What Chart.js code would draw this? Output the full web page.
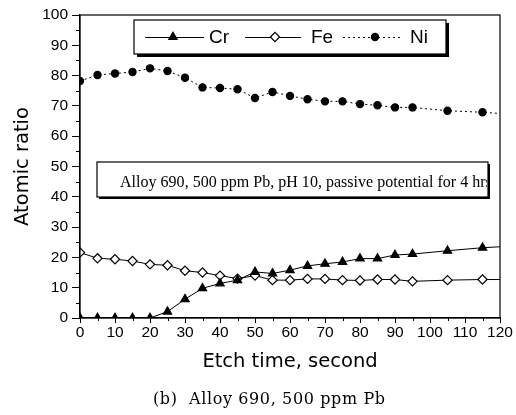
<!DOCTYPE html>
<html><head><meta charset="utf-8">
<script src="https://cdn.jsdelivr.net/npm/chart.js@4.4.1/dist/chart.umd.min.js"></script>
<style>html,body{margin:0;padding:0;background:#fff}canvas{display:block}</style>
</head><body>
<canvas id="c" width="516" height="415"></canvas>
<script>
// Etch time (s); last entry is where the drawn lines end (no marker)
const etchTime = [0,5,10,15,20,25,30,35,40,45,50,55,60,65,70,75,80,85,90,95,105,115,120];
const cr = [0,0,0,0,0,2.1,6.2,9.8,11.4,12.5,15.2,14.7,15.8,17.2,17.9,18.5,19.6,19.6,20.8,21.1,22.2,23.2,23.5];
const fe = [21.6,19.7,19.4,18.8,17.7,17.4,15.6,15.0,14.0,13.0,14.0,12.5,12.5,12.9,12.9,12.5,12.4,12.7,12.7,12.1,12.5,12.7,12.7];
const ni = [78.2,80.2,80.7,81.2,82.4,81.5,79.3,76.1,75.9,75.5,72.6,74.6,73.3,72.2,71.5,71.5,70.6,70.2,69.5,69.5,68.4,67.9,67.5];
const seriesNames = ['Cr','Fe','Ni'];
const xTicks = [0,10,20,30,40,50,60,70,80,90,100,110,120];
const yTicks = [0,10,20,30,40,50,60,70,80,90,100];
const xTitle = 'Etch time, second';
const yTitle = 'Atomic ratio';
const noteText = 'Alloy 690, 500 ppm Pb, pH 10, passive potential for 4 hrs';
const caption = '(b)  Alloy 690, 500 ppm Pb';

const pts = arr => arr.map((v,i)=>({x:etchTime[i], y:v}));
const lastHidden = r => ctx => ctx.dataIndex === etchTime.length-1 ? 0 : r;

const styles = [
  {pointStyle:'triangle', radius:4.8, bg:'#000', dash:[]},
  {pointStyle:'rectRot', radius:4.6, bg:'#fff', dash:[]},
  {pointStyle:'circle', radius:3.6, bg:'#000', dash:[2,3]}
];
const datasets = [cr,fe,ni].map((arr,k)=>({
  label: seriesNames[k],
  data: pts(arr),
  borderColor:'#000', borderWidth:1, borderDash: styles[k].dash,
  pointStyle: styles[k].pointStyle,
  pointRadius: lastHidden(styles[k].radius),
  pointBackgroundColor: styles[k].bg, pointBorderColor:'#000', pointBorderWidth:1.2,
  tension:0, fill:false
}));

const sans = 'Liberation Sans';
function fitText(c, text, x, y, width){
  const w = c.measureText(text).width;
  const sp = Math.max(0, (width - w) / (text.length - 1));
  if ('letterSpacing' in c) c.letterSpacing = sp.toFixed(2) + 'px';
  c.fillText(text, x, y);
  if ('letterSpacing' in c) c.letterSpacing = '0px';
}
const decor = {
  id:'decor',
  afterDraw(chart){
    const c = chart.ctx, a = chart.chartArea, xs = chart.scales.x, ys = chart.scales.y;
    c.save();
    // frame
    c.strokeStyle='#000'; c.lineWidth=1.2;
    c.strokeRect(a.left, a.top, a.right-a.left, a.bottom-a.top);
    // minor ticks
    c.lineWidth=1;
    c.beginPath();
    for(let v=5; v<100; v+=10){ const y=Math.round(ys.getPixelForValue(v))+0.5; c.moveTo(a.left-4,y); c.lineTo(a.left,y); }
    for(let v=5; v<120; v+=10){ const x=Math.round(xs.getPixelForValue(v))+0.5; c.moveTo(x,a.bottom); c.lineTo(x,a.bottom+3); }
    c.stroke();
    // legend box with shadow
    const L=134, T=20, R=446, B=54;
    c.fillStyle='#000'; c.fillRect(L+3, T+3, R-L, B-T);
    c.fillStyle='#fff'; c.fillRect(L, T, R-L, B-T);
    c.strokeStyle='#000'; c.lineWidth=1.2; c.strokeRect(L, T, R-L, B-T);
    const items = [
      {x1:145,x2:204,mx:173,tx:209},
      {x1:245,x2:301,mx:275,tx:311},
      {x1:343,x2:400,mx:375,tx:410}
    ];
    const cy = 37;
    items.forEach((it,k)=>{
      const ds = datasets[k];
      c.save();
      c.strokeStyle='#000'; c.lineWidth=1; c.setLineDash(ds.borderDash);
      c.beginPath(); c.moveTo(it.x1,cy+0.5); c.lineTo(it.x2,cy+0.5); c.stroke();
      c.restore();
      c.fillStyle = ds.pointBackgroundColor; c.strokeStyle='#000'; c.lineWidth=1.2;
      Chart.helpers.drawPoint(c, {pointStyle: ds.pointStyle, radius: styles[k].radius, borderWidth:1.2}, it.mx, cy);
      c.fillStyle='#000'; c.font='19px "'+sans+'"'; c.textBaseline='middle'; c.textAlign='left';
      c.fillText(ds.label, it.tx, cy+1);
    });
    // note box
    const nL=97, nT=162, nR=488, nB=197;
    c.fillStyle='#000'; c.fillRect(nL+2, nT+2, nR-nL, nB-nT);
    c.fillStyle='#fff'; c.fillRect(nL, nT, nR-nL, nB-nT);
    c.strokeStyle='#000'; c.lineWidth=1.2; c.strokeRect(nL, nT, nR-nL, nB-nT);
    c.save();
    c.beginPath(); c.rect(nL, nT, nR-nL-1, nB-nT); c.clip();
    c.fillStyle='#000'; c.font='16px "Liberation Serif"'; c.textBaseline='alphabetic'; c.textAlign='left';
    fitText(c, noteText, 120, 187, 372);
    c.restore();
    // caption
    c.fillStyle='#000'; c.font='16px "DejaVu Serif"'; c.textAlign='left'; c.textBaseline='middle';
    fitText(c, caption, 153, 400, 232);
    c.restore();
  }
};

new Chart(document.getElementById('c'), {
  type:'line',
  data:{datasets},
  options:{
    responsive:false, animation:false, devicePixelRatio:1,
    layout:{padding:{left:0, top:15, right:16, bottom:0}},
    plugins:{legend:{display:false}, tooltip:{enabled:false}},
    scales:{
      x:{type:'linear', min:0, max:120,
        afterBuildTicks: s => { s.ticks = xTicks.map(v=>({value:v})); },
        afterFit: s => { s.height = 97; },
        grid:{drawOnChartArea:false, tickLength:5, color:'#000', lineWidth:1},
        border:{display:true, color:'#000', width:1.2},
        ticks:{color:'#000', font:{family:sans, size:15.5}, padding:0, maxRotation:0, autoSkip:false},
        title:{display:true, text:xTitle, color:'#000', font:{family:'DejaVu Sans', size:19.5}, padding:{top:0, bottom:41}}
      },
      y:{min:0, max:100,
        afterBuildTicks: s => { s.ticks = yTicks.map(v=>({value:v})); },
        afterFit: s => { s.width = 80; },
        grid:{drawOnChartArea:false, tickLength:8, color:'#000', lineWidth:1},
        border:{display:true, color:'#000', width:1.2},
        ticks:{color:'#000', font:{family:sans, size:15.5}, padding:4, autoSkip:false},
        title:{display:true, text:yTitle, color:'#000', font:{family:'DejaVu Sans', size:19.5}, padding:{top:11, bottom:0}}
      }
    }
  },
  plugins:[decor]
});
</script>
</body></html>
